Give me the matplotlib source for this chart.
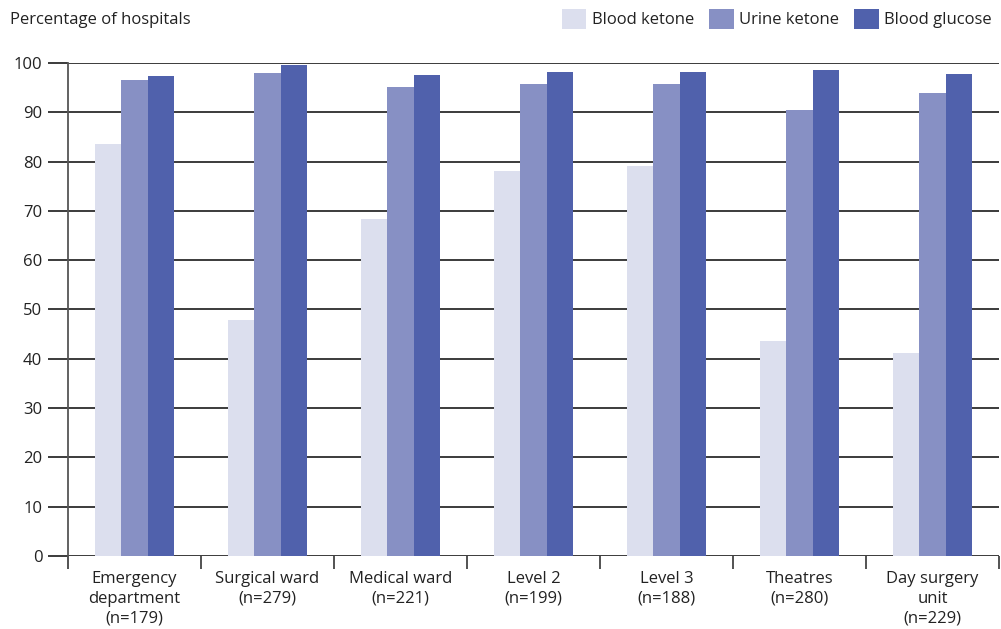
import numpy as np
import matplotlib.pyplot as plt
from matplotlib.patches import Patch
from matplotlib.ticker import FixedLocator

plt.rcParams['font.family'] = ['Open Sans', 'DejaVu Sans']

categories = ['Emergency\ndepartment\n(n=179)', 'Surgical ward\n(n=279)', 'Medical ward\n(n=221)',
              'Level 2\n(n=199)', 'Level 3\n(n=188)', 'Theatres\n(n=280)', 'Day surgery\nunit\n(n=229)']
blood_ketone = [83.6, 47.9, 68.4, 78.1, 79.1, 43.6, 41.2]
urine_ketone = [96.6, 98.0, 95.2, 95.8, 95.8, 90.5, 93.9]
blood_glucose = [97.4, 99.6, 97.6, 98.2, 98.2, 98.6, 97.8]
series_names = ['Blood ketone', 'Urine ketone', 'Blood glucose']
colors = ['#dcdfee', '#8790c4', '#5061ac']

fig = plt.figure(figsize=(10.01, 6.29), dpi=100)
ax = fig.add_axes([0.068, 0.116, 0.93, 0.784])

x = np.arange(len(categories))
w = 0.2
for i, vals in enumerate([blood_ketone, urine_ketone, blood_glucose]):
    ax.bar(x + (i - 1) * w, vals, width=w, color=colors[i], zorder=3)

ax.set_xlim(-0.5, len(categories) - 0.5)
ax.set_ylim(0, 100)
ax.set_yticks(range(0, 101, 10))
ax.yaxis.grid(True, color='#1a1a1a', linewidth=1.2, zorder=1)
ax.set_axisbelow(True)
for s in ['top', 'right', 'bottom']:
    ax.spines[s].set_visible(False)
ax.spines['left'].set_color('#555555')
ax.spines['left'].set_linewidth(1.3)

ax.tick_params(axis='y', length=14.5, width=1.2, color='#1a1a1a', labelsize=12, pad=4, labelcolor='#222222')
ax.set_xticks(x)
ax.set_xticklabels(categories, fontsize=12, color='#222222', linespacing=1.3)
ax.tick_params(axis='x', which='major', length=0, pad=11)
ax.xaxis.set_minor_locator(FixedLocator(np.arange(-0.5, len(categories), 1.0)))
ax.tick_params(axis='x', which='minor', length=9.5, width=1.3, color='#444444')

fig.text(0.01, 0.968, 'Percentage of hospitals', fontsize=12, color='#222222', va='center')

handles = [Patch(facecolor=c, edgecolor='none') for c in colors]
fig.legend(handles, series_names, loc='upper right', bbox_to_anchor=(1.006, 1.01), ncol=3,
           frameon=False, fontsize=12, handlelength=1.45, handleheight=1.45,
           handletextpad=0.35, columnspacing=0.9, labelcolor='#222222')

fig.savefig('out.png', dpi=100)
